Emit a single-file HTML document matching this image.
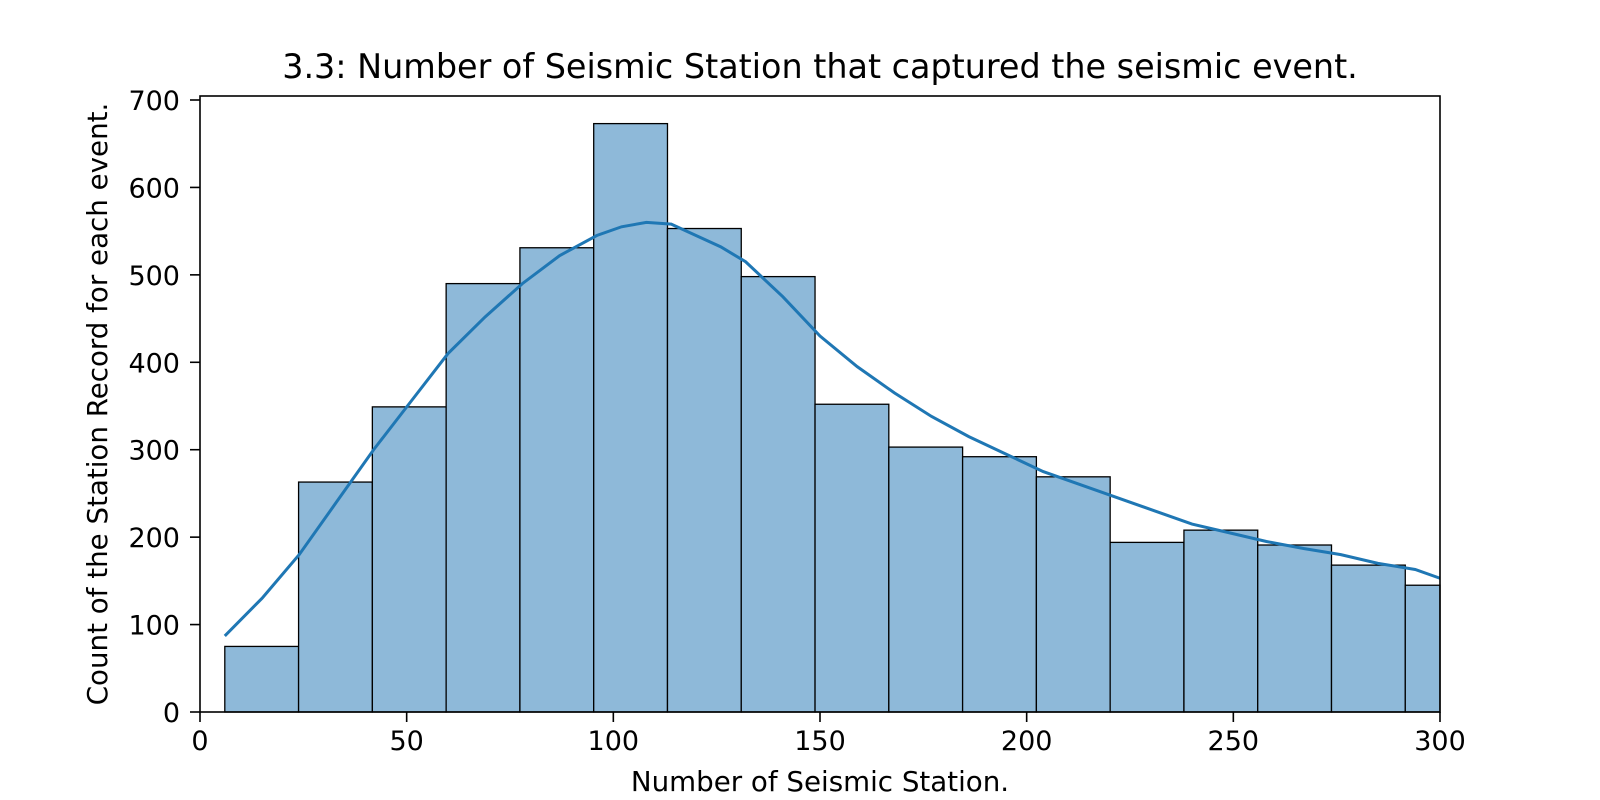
<!DOCTYPE html>
<html><head><meta charset="utf-8"><style>
body{margin:0;background:#fff;overflow:hidden;}
svg text{font-family:"DejaVu Sans","Liberation Sans",sans-serif;fill:#000;}
</style></head><body>
<svg id="chart" width="1600" height="800" xmlns="http://www.w3.org/2000/svg" style="display:block">
<text x="820" y="78" font-size="33.4" text-anchor="middle">3.3: Number of Seismic Station that captured the seismic event.</text>
<g id="bars"></g><g id="kde"></g><g id="axes"></g>
<text x="820" y="791" font-size="27.7" text-anchor="middle">Number of Seismic Station.</text>
<text transform="translate(107,404) rotate(-90)" font-size="27.7" text-anchor="middle">Count of the Station Record for each event.</text>
</svg>
<script>
const binStart = 6;
const binWidth = 17.85;
const counts = [75,263,349,490,531,673,553,498,352,303,292,269,194,208,191,168,145];
const kdeX = [6,15,24,33,42,51,60,69,78,87,96,102,108,114,120,126,132,141,150,159,168,177,186,195,204,213,222,231,240,249,258,267,276,285,294,300];
const kdeY = [87,130,180,240,300,355,410,452,490,522,545,555,560,558,545,532,515,475,430,395,365,338,315,295,275,260,245,230,215,205,195,187,180,170,163,153];
const xTicks = [0,50,100,150,200,250,300];
const yTicks = [0,100,200,300,400,500,600,700];
const L=200,R=1440,T=96,B=712;
const sx=v=>L+v*(R-L)/300;
const sy=v=>B-v*612/700;
const NS="http://www.w3.org/2000/svg";
function mk(tag,attrs,parent){const e=document.createElementNS(NS,tag);for(const k in attrs)e.setAttribute(k,attrs[k]);parent.appendChild(e);return e;}
const bars=document.getElementById('bars');
counts.forEach((c,i)=>{
  const x0=binStart+i*binWidth, x1=Math.min(x0+binWidth,300);
  const r=mk('rect',{x:sx(x0),y:sy(c),width:sx(x1)-sx(x0),height:sy(0)-sy(c),fill:'#8eb9d9',stroke:'#000','stroke-width':1.3},bars);
  
  
});
const kde=document.getElementById('kde');
const p=mk('polyline',{points:kdeX.map((x,i)=>sx(x)+','+sy(kdeY[i])).join(' '),fill:'none',stroke:'#1f77b4','stroke-width':3},kde);


const ax=document.getElementById('axes');
const fr=mk('rect',{x:L,y:T,width:R-L,height:B-T,fill:'none',stroke:'#000','stroke-width':1.6},ax);


xTicks.forEach(t=>{
  mk('line',{x1:sx(t),x2:sx(t),y1:B,y2:B+10,stroke:'#000','stroke-width':1.6},ax);
  const tx=mk('text',{x:sx(t),y:750,'font-size':27,'text-anchor':'middle'},ax);
  tx.textContent=t;
  
  
});
yTicks.forEach(t=>{
  mk('line',{x1:L-10,x2:L,y1:sy(t),y2:sy(t),stroke:'#000','stroke-width':1.6},ax);
  const tx=mk('text',{x:L-20,y:sy(t)+10,'font-size':27,'text-anchor':'end'},ax);
  tx.textContent=t;
  
  
});
</script>
</body></html>
